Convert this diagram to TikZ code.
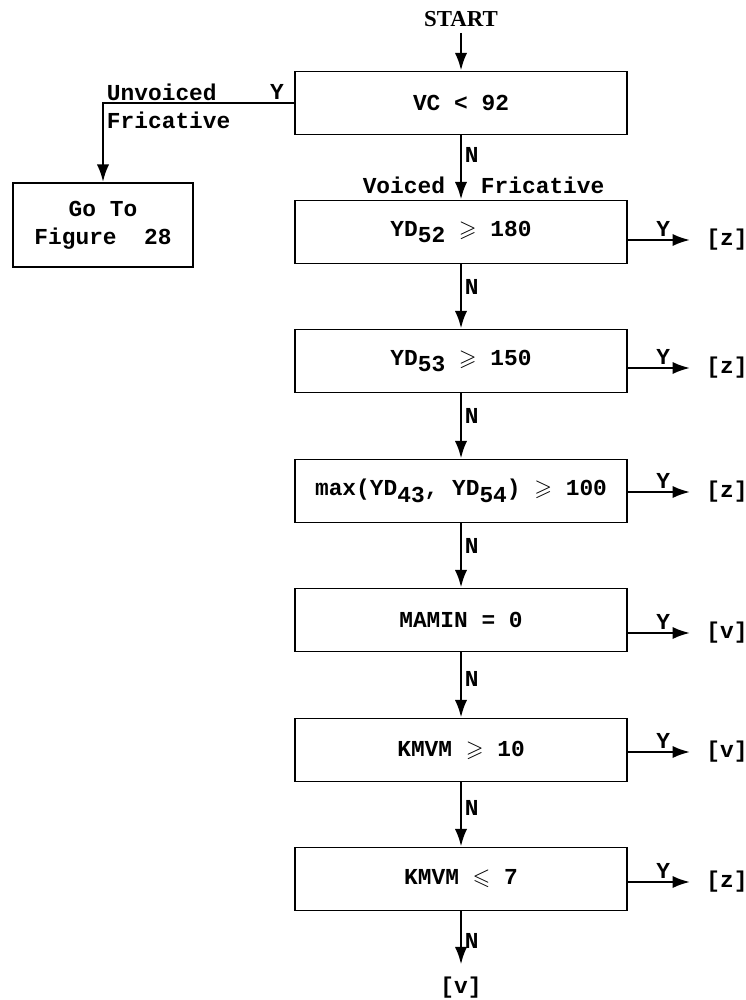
\documentclass[tikz,border=0pt]{standalone}
\usepackage{fontspec}
\usepackage{amssymb}
\setmainfont{Liberation Serif}
\setmonofont{Liberation Mono}
\usetikzlibrary{arrows.meta}
\newcommand{\lowr}[1]{\raisebox{-0.55ex}{#1}}
\tikzset{
  testbox/.style={draw, line width=1.1pt, minimum width=6.64cm, minimum height=1.26cm,
                  font=\fontsize{13}{16}\selectfont\ttfamily\bfseries},
  lbl/.style={font=\fontsize{13}{16}\selectfont\ttfamily\bfseries, inner sep=1.5pt},
  outlbl/.style={font=\fontsize{13}{16}\selectfont\ttfamily\bfseries, inner sep=0pt},
  arr/.style={line width=1.4pt, -{Latex[length=10pt,width=7pt]}}
}

\begin{document}
\begin{tikzpicture}[x=0.02cm, y=-0.02cm]
\useasboundingbox (0,0) rectangle (745,1000);

\node[font=\bfseries\fontsize{13}{16}\selectfont] (start) at (461,19) {START};
\node[testbox] (vc) at (461,103) {VC < 92};
\node[testbox, minimum width=3.6cm, minimum height=1.68cm, align=center] (goto) at (103,225)
  {Go To\\Figure\ \ 28};
\node[testbox] (yd52) at (461,232) {YD\lowr{52} $\geqslant$ 180};
\node[testbox] (yd53) at (461,361) {YD\lowr{53} $\geqslant$ 150};
\node[testbox] (ydmax) at (461,491) {max(YD\lowr{43}, YD\lowr{54}) $\geqslant$ 100};
\node[testbox] (mamin) at (461,620) {MAMIN = 0};
\node[testbox] (kmvmA) at (461,750) {KMVM $\geqslant$ 10};
\node[testbox] (kmvmB) at (461,879) {KMVM $\leqslant$ 7};

% outcomes
\node[outlbl] (o1) at (727,240) {[z]};
\node[outlbl] (o2) at (727,368) {[z]};
\node[outlbl] (o3) at (727,492) {[z]};
\node[outlbl] (o4) at (727,633) {[v]};
\node[outlbl] (o5) at (727,752) {[v]};
\node[outlbl] (o6) at (727,882) {[z]};
\node[outlbl] (vend) at (461,988) {[v]};

\node[lbl, anchor=west] (unv) at (104,92) {Unvoiced};
\node[lbl, anchor=west] (fricL) at (104,120) {Fricative};
\node[lbl, anchor=east] (voi) at (448,185) {Voiced};
\node[lbl, anchor=west] (fricR) at (478,185) {Fricative};

\draw[arr] (start) -- (vc);
\draw[arr] (vc.west) -| (goto.north) node[lbl, pos=0.045, above] {Y};
\draw[arr] (vc) -- (yd52) node[lbl, pos=0.3, right] {N};
\draw[arr] (yd52) -- (yd53) node[lbl, pos=0.35, right] {N};
\draw[arr] (yd53) -- (ydmax) node[lbl, pos=0.35, right] {N};
\draw[arr] (ydmax) -- (mamin) node[lbl, pos=0.35, right] {N};
\draw[arr] (mamin) -- (kmvmA) node[lbl, pos=0.4, right] {N};
\draw[arr] (kmvmA) -- (kmvmB) node[lbl, pos=0.4, right] {N};
\draw[arr, shorten >=0.25cm] (kmvmB) -- (vend) node[lbl, pos=0.45, right] {N};

\foreach \b/\o in {yd52/o1, yd53/o2, ydmax/o3, mamin/o4, kmvmA/o5, kmvmB/o6}
  \draw[arr, shorten >=0.32cm] (\o -| \b.east) -- (\o.west) node[lbl, pos=0.45, above] {Y};
\end{tikzpicture}
\end{document}
